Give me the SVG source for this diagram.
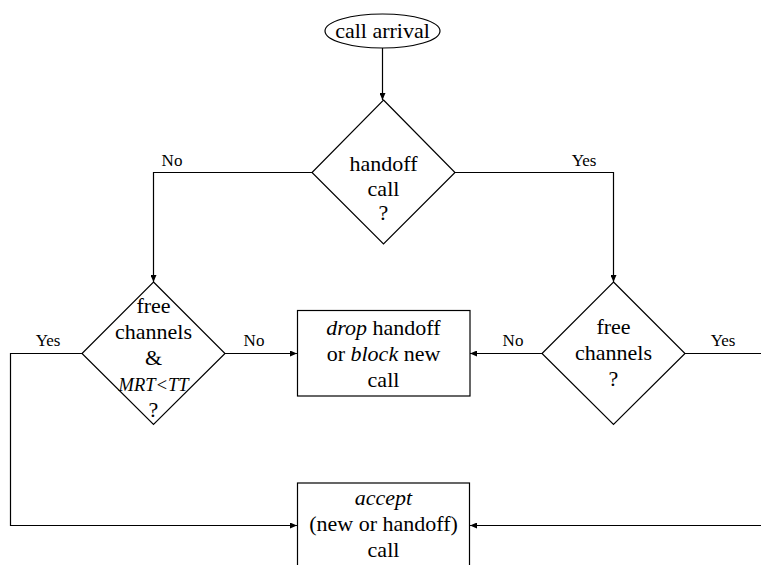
<svg xmlns="http://www.w3.org/2000/svg" width="761" height="565" viewBox="0 0 761 565">
  <defs>
    <marker id="arrow" markerUnits="userSpaceOnUse" markerWidth="8" markerHeight="6" refX="7" refY="3" orient="auto">
      <path d="M0,0 L7,3 L0,6 z" fill="#000"/>
    </marker>
    <style>
      .shape { fill: #fff; stroke: #000; stroke-width: 1.2; }
      .wire { fill: none; stroke: #000; stroke-width: 1.2; marker-end: url(#arrow); }
      text { font-family: 'Liberation Serif', 'Times New Roman', 'DejaVu Serif', serif; fill: #000; text-anchor: middle; }
      .txt { font-size: 22px; }
      .lbl { font-size: 17px; }
      .it { font-style: italic; }
    </style>
  </defs>
  <rect width="761" height="565" fill="#fff"/>

  <!-- connectors and their Yes/No labels -->
  <g id="connectors">
    <path class="wire" d="M382.5,48 V100"/>
    <path class="wire" d="M312,172.5 H153.5 V282"/>
    <path class="wire" d="M455,172.5 H613.5 V282"/>
    <path class="wire" d="M225,353.5 H297"/>
    <path class="wire" d="M542,353.5 H470"/>
    <path class="wire" d="M82,353.5 H10.5 V525.5 H297"/>
    <path class="wire" d="M685,353.5 H763 V525.5 H470"/>
    <text class="lbl" x="172" y="166">No</text>
    <text class="lbl" x="584" y="166">Yes</text>
    <text class="lbl" x="48" y="346">Yes</text>
    <text class="lbl" x="254" y="346">No</text>
    <text class="lbl" x="513" y="346">No</text>
    <text class="lbl" x="723" y="346">Yes</text>
  </g>

  <g id="start">
    <ellipse class="shape" cx="382.5" cy="31" rx="57.5" ry="17"/>
    <text class="txt" x="382.5" y="38">call arrival</text>
  </g>

  <g id="is-handoff">
    <polygon class="shape" points="383.5,100 455,172.5 383.5,244 312,172.5"/>
    <text class="txt" x="383.5" y="171">handoff</text>
    <text class="txt" x="383.5" y="196">call</text>
    <text class="txt" x="383.5" y="220">?</text>
  </g>

  <g id="check-new">
    <polygon class="shape" points="153.5,282 225,353.5 153.5,424.5 82,353.5"/>
    <text class="txt" x="153.5" y="313">free</text>
    <text class="txt" x="153.5" y="339">channels</text>
    <text class="txt" x="153.5" y="365">&amp;</text>
    <text class="txt it" x="153.5" y="391" style="font-size:18.5px">MRT&lt;TT</text>
    <text class="txt" x="153.5" y="417">?</text>
  </g>

  <g id="check-handoff">
    <polygon class="shape" points="613.5,282 685,353.5 613.5,424.5 542,353.5"/>
    <text class="txt" x="613.5" y="334">free</text>
    <text class="txt" x="613.5" y="360">channels</text>
    <text class="txt" x="613.5" y="386">?</text>
  </g>

  <g id="reject">
    <rect class="shape" x="297.5" y="310.5" width="172.5" height="85.5"/>
    <text class="txt" x="383.5" y="335"><tspan class="it">drop</tspan> handoff</text>
    <text class="txt" x="383.5" y="361">or <tspan class="it">block</tspan> new</text>
    <text class="txt" x="383.5" y="387">call</text>
  </g>

  <g id="accept">
    <rect class="shape" x="297.5" y="483" width="172" height="100"/>
    <text class="txt it" x="383.5" y="505">accept</text>
    <text class="txt" x="383.5" y="531">(new or handoff)</text>
    <text class="txt" x="383.5" y="557">call</text>
  </g>
</svg>
